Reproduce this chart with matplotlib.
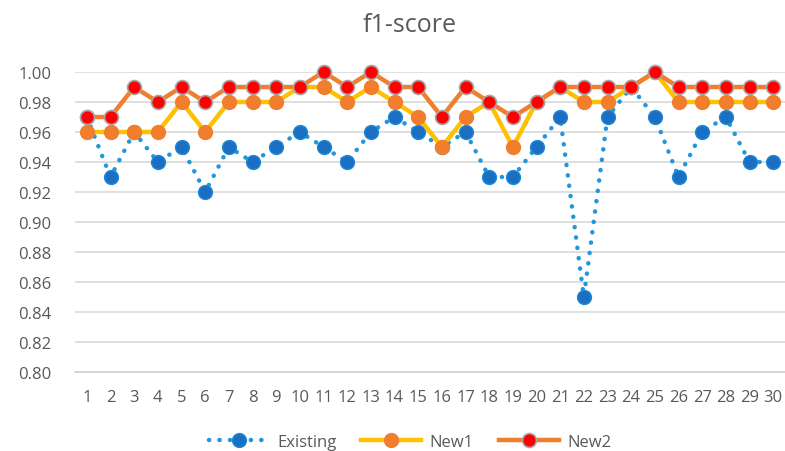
import matplotlib
matplotlib.use('Agg')
import matplotlib.pyplot as plt

plt.rcParams['font.family'] = ['Open Sans', 'DejaVu Sans']

runs = list(range(1, 31))
existing = [0.97, 0.93, 0.96, 0.94, 0.95, 0.92, 0.95, 0.94, 0.95, 0.96,
            0.95, 0.94, 0.96, 0.97, 0.96, 0.95, 0.96, 0.93, 0.93, 0.95,
            0.97, 0.85, 0.97, 0.99, 0.97, 0.93, 0.96, 0.97, 0.94, 0.94]
new1 = [0.96, 0.96, 0.96, 0.96, 0.98, 0.96, 0.98, 0.98, 0.98, 0.99,
        0.99, 0.98, 0.99, 0.98, 0.97, 0.95, 0.97, 0.98, 0.95, 0.98,
        0.99, 0.98, 0.98, 0.99, 1.00, 0.98, 0.98, 0.98, 0.98, 0.98]
new2 = [0.97, 0.97, 0.99, 0.98, 0.99, 0.98, 0.99, 0.99, 0.99, 0.99,
        1.00, 0.99, 1.00, 0.99, 0.99, 0.97, 0.99, 0.98, 0.97, 0.98,
        0.99, 0.99, 0.99, 0.99, 1.00, 0.99, 0.99, 0.99, 0.99, 0.99]
yticks = [0.80, 0.82, 0.84, 0.86, 0.88, 0.90, 0.92, 0.94, 0.96, 0.98, 1.00]

txt = '#595959'

fig = plt.figure(figsize=(7.85, 4.52), dpi=100)
ax = fig.add_axes([75 / 785, 1 - 373 / 452, 710 / 785, 300 / 452])

ax.plot(runs, existing, color='#2196DB', linestyle=(0, (0.05, 2.3)), linewidth=3.2,
        dash_capstyle='round', marker='o', markersize=10,
        markerfacecolor='#1B6FC2', markeredgecolor='#1E88D6', markeredgewidth=1,
        label='Existing', zorder=3)
ax.plot(runs, new1, color='#FFC000', linewidth=3.2, marker='o', markersize=10,
        markerfacecolor='#F07E2C', markeredgecolor='#F07E2C', label='New1', zorder=4)
ax.plot(runs, new2, color='#F07E2C', linewidth=3.2, marker='o', markersize=10,
        markerfacecolor='#FF0000', markeredgecolor='#A6A6A6', markeredgewidth=1.2,
        label='New2', zorder=5)

ax.set_xlim(0.5, 30.5)
ax.set_ylim(0.80, 1.00)
ax.set_xticks(runs)
ax.set_yticks(yticks)
ax.set_yticklabels([f'{v:.2f}' for v in yticks])
ax.tick_params(length=0, labelsize=12, labelcolor=txt)
ax.tick_params(axis='y', pad=17)
ax.tick_params(axis='x', pad=12)
ax.grid(axis='y', color='#D9D9D9', linewidth=1.2)
ax.set_axisbelow(True)
for s in ['top', 'right', 'left']:
    ax.spines[s].set_visible(False)
ax.spines['bottom'].set_color('#D0D0D0')
ax.spines['bottom'].set_linewidth(1.2)
for ln in ax.lines:
    ln.set_clip_on(False)

fig.text(410 / 785, 1 - 26 / 452, 'f1-score', ha='center', va='center', fontsize=18, color=txt)

fig.legend(loc='center', bbox_to_anchor=(410 / 785, 1 - 443 / 452), ncol=3, frameon=False,
           fontsize=12, labelcolor=txt, handlelength=3.6, handletextpad=0.5,
           columnspacing=1.5)

fig.savefig('out.png', dpi=100)
